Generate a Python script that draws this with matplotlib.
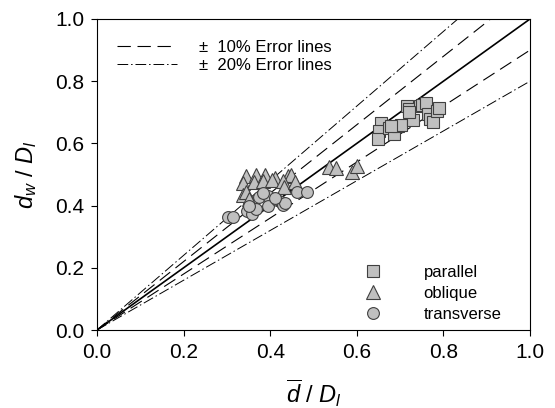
import matplotlib
matplotlib.use("Agg")
import matplotlib.pyplot as plt
import numpy as np
from matplotlib.lines import Line2D

plt.rcParams['font.family'] = ['Liberation Sans', 'DejaVu Sans']
plt.rcParams['mathtext.fontset'] = 'custom'
plt.rcParams['mathtext.it'] = 'Liberation Sans:italic'
plt.rcParams['mathtext.rm'] = 'Liberation Sans'

parallel_x = [0.655, 0.652, 0.650, 0.675, 0.685, 0.695, 0.703, 0.715, 0.72, 0.73,
              0.745, 0.75, 0.76, 0.765, 0.77, 0.775, 0.785, 0.79, 0.72, 0.68]
parallel_y = [0.665, 0.64, 0.615, 0.65, 0.63, 0.655, 0.66, 0.72, 0.71, 0.675,
              0.72, 0.725, 0.73, 0.695, 0.68, 0.67, 0.705, 0.715, 0.70, 0.655]

oblique_x = [0.343, 0.367, 0.388, 0.411, 0.440, 0.448, 0.338, 0.362, 0.383, 0.404,
             0.43, 0.338, 0.345, 0.35, 0.433, 0.457, 0.535, 0.552, 0.589, 0.601]
oblique_y = [0.495, 0.50, 0.497, 0.49, 0.495, 0.50, 0.472, 0.475, 0.478, 0.482,
             0.48, 0.434, 0.445, 0.42, 0.461, 0.477, 0.525, 0.522, 0.507, 0.528]

transverse_x = [0.302, 0.314, 0.347, 0.359, 0.367, 0.375, 0.396, 0.396, 0.416, 0.424,
                0.429, 0.435, 0.461, 0.486, 0.351, 0.384, 0.41]
transverse_y = [0.362, 0.364, 0.383, 0.372, 0.388, 0.427, 0.43, 0.398, 0.418, 0.41,
                0.402, 0.408, 0.443, 0.445, 0.40, 0.44, 0.425]

ratio_line = [0.0, 1.0]
err10 = [1.1, 0.9]
err20 = [1.2, 0.8]

fig = plt.figure(figsize=(5.55, 4.08), dpi=100)
ax = fig.add_axes([97 / 555, 1 - 330 / 408, 433 / 555, 311 / 408])

xs = np.array(ratio_line)
ax.plot(xs, xs, color='black', lw=1.2, zorder=2)
dash10 = (12, 6)
dash20 = (11, 3, 1.5, 3)
for f in err10:
    ax.plot(xs, f * xs, color='black', lw=0.8, dashes=dash10, zorder=2)
for f in err20:
    ax.plot(xs, f * xs, color='black', lw=0.7, dashes=dash20, zorder=2)

mk = dict(markerfacecolor='#c0c0c0', markeredgecolor='#404040', markeredgewidth=0.8, linestyle='none')
ax.plot(parallel_x, parallel_y, marker='s', markersize=8, zorder=3, **mk)
ax.plot(oblique_x, oblique_y, marker='^', markersize=9.5, zorder=3, **mk)
ax.plot(transverse_x, transverse_y, marker='o', markersize=8.5, zorder=3, **mk)

ax.set_xlim(0, 1)
ax.set_ylim(0, 1)
ticks = [0.0, 0.2, 0.4, 0.6, 0.8, 1.0]
ax.set_xticks(ticks)
ax.set_yticks(ticks)
ax.set_xticklabels([f"{t:.1f}" for t in ticks])
ax.set_yticklabels([f"{t:.1f}" for t in ticks])
ax.tick_params(direction='out', length=4, width=0.8, labelsize=15, pad=5)
for s in ax.spines.values():
    s.set_linewidth(0.8)

ax.set_xlabel(r'$\overline{d}$ / $D_l$', fontsize=17, labelpad=11)
ax.set_ylabel(r'$d_w$ / $D_l$', fontsize=17, labelpad=12)

h1 = [Line2D([], [], color='black', lw=0.8, dashes=dash10),
      Line2D([], [], color='black', lw=0.7, dashes=dash20)]
leg1 = ax.legend(h1, ['±  10% Error lines', '±  20% Error lines'], loc='upper left',
                 bbox_to_anchor=(0.028, 0.96), frameon=False, fontsize=12, borderpad=0,
                 handlelength=3.6, handletextpad=1.3, labelspacing=0.2)
ax.add_artist(leg1)

h2 = [Line2D([], [], marker='s', markersize=8, **mk),
      Line2D([], [], marker='^', markersize=9.5, **mk),
      Line2D([], [], marker='o', markersize=8.5, **mk)]
ax.legend(h2, ['parallel', 'oblique', 'transverse'], loc='lower left',
          bbox_to_anchor=(0.600, 0.0), frameon=False, fontsize=12, borderpad=0,
          handlelength=1.0, handletextpad=2.5, labelspacing=0.35)

fig.savefig('out.png', dpi=100)
